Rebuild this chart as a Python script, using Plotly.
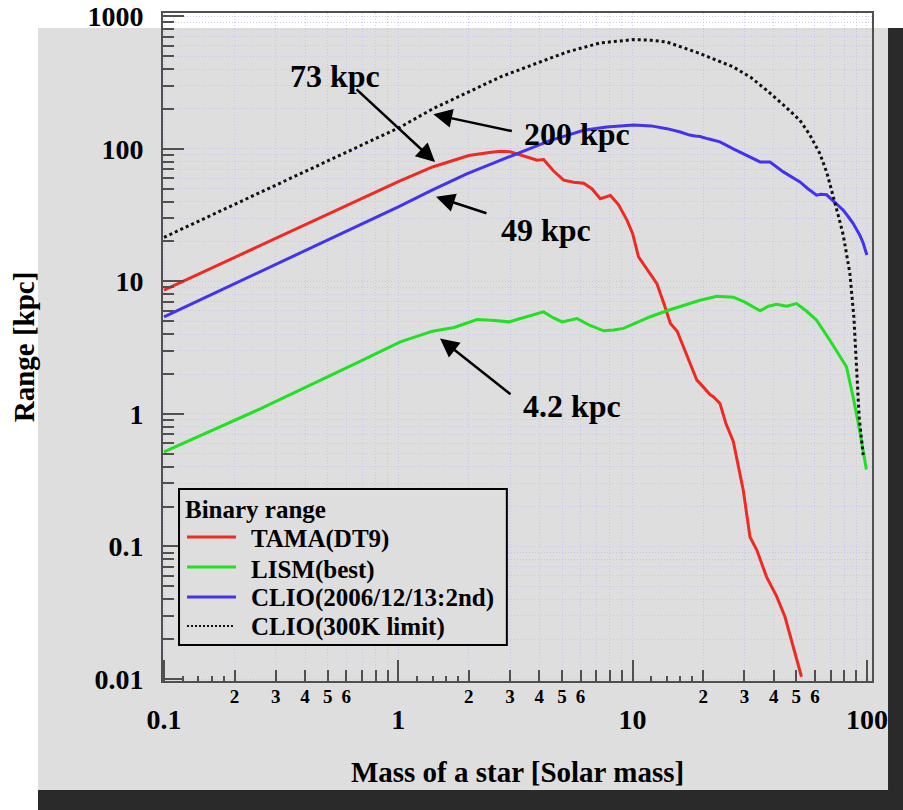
import math
import plotly.graph_objects as go

# ---- Binary inspiral range [kpc] vs. mass of each star [solar mass] ----
mass_tama = [0.1, 0.3, 1.0, 1.4, 2.0, 2.45, 2.73, 3.0, 3.21, 3.6, 3.91, 4.17, 4.6, 5.08,
             5.6, 6.18, 6.7, 7.28, 8.04, 8.7, 9.46, 10.0, 10.6, 11.5, 12.7, 13.6, 14.5,
             15.5, 16.5, 18.8, 19.4, 21.4, 22.1, 23.6, 25.0, 26.9, 28.3, 29.7, 31.7,
             33.9, 37.3, 41.2, 44.7, 48.5, 52.6]
range_tama = [8.6, 21.0, 56.5, 73.0, 89.0, 94.0, 96.0, 95.0, 92.0, 86.0, 82.0, 83.0, 68.0,
              58.0, 56.0, 55.0, 50.0, 42.0, 44.5, 38.0, 29.0, 23.0, 15.3, 12.4, 9.6, 6.8,
              4.82, 4.2, 3.2, 1.8, 1.7, 1.4, 1.35, 1.2, 0.85, 0.62, 0.40, 0.263, 0.118,
              0.094, 0.059, 0.042, 0.0295, 0.0175, 0.0104]

mass_lism = [0.1, 0.26, 0.69, 1.02, 1.33, 1.4, 1.73, 2.17, 2.5, 2.97, 3.32, 3.8, 4.17,
             4.6, 5.0, 5.79, 6.5, 7.52, 8.3, 9.14, 10.5, 11.9, 14.0, 16.5, 19.4, 22.9,
             26.9, 30.0, 35.0, 38.0, 41.2, 45.4, 50.1, 55.0, 61.0, 69.5, 75.0, 81.8,
             87.3, 93.3, 99.5]
range_lism = [0.518, 1.1, 2.5, 3.5, 4.09, 4.2, 4.49, 5.16, 5.1, 4.95, 5.25, 5.6, 5.89,
              5.3, 4.95, 5.25, 4.7, 4.24, 4.3, 4.42, 4.9, 5.41, 6.0, 6.62, 7.2, 7.73,
              7.6, 7.0, 6.0, 6.5, 6.73, 6.5, 6.8, 6.0, 5.1, 3.6, 2.9, 2.27, 1.35, 0.74,
              0.38]

mass_clio = [0.1, 1.0, 1.4, 1.97, 2.5, 3.21, 4.46, 5.3, 6.18, 7.76, 10.1, 12.0, 14.0,
             16.0, 17.5, 18.5, 19.4, 21.0, 23.6, 26.9, 29.7, 33.0, 35.0, 38.6, 44.0,
             51.8, 56.0, 61.0, 63.5, 67.3, 72.0, 79.3, 83.0, 87.3, 93.3, 96.4, 100.0]
range_clio = [5.4, 36.5, 49.0, 65.0, 77.0, 92.0, 116, 127, 138, 146, 151, 149, 142,
              134, 127, 125, 124, 119, 113, 100, 92, 84, 79.6, 79.6, 67, 56.3, 50,
              44.7, 45.5, 45.0, 40, 34.4, 31, 27.4, 22.3, 19.5, 15.8]

mass_limit = [0.1, 1.02, 1.4, 2.73, 4.0, 5.25, 7.28, 10.1, 12.0, 14.0, 19.4, 26.9, 32.0,
              37.3, 44.0, 51.8, 57.0, 63.0, 67.5, 71.8, 76.0, 79.3, 84.6, 88.0, 90.3,
              92.7, 96.4]
range_limit = [21.5, 146, 200, 349, 450, 538, 630, 667, 660, 640, 523, 415, 345, 277,
               215, 164, 128, 92, 66, 44.7, 30, 22.3, 11.5, 5.37, 2.25, 0.946, 0.49]

series_names = ["TAMA(DT9)", "LISM(best)", "CLIO(2006/12/13:2nd)", "CLIO(300K limit)"]
series_colors = ["#ee2a22", "#22e022", "#4433ee", "#111111"]

# axis ticks
x_major = [0.1, 1, 10, 100]
x_major_text = ["0.1", "1", "10", "100"]
x_minor = [k * 10.0 ** e for e in (-1, 0, 1) for k in range(2, 10)]
x_minor_labelled = [k * 10.0 ** e for e in (-1, 0, 1) for k in range(2, 7)]
x_minor_text = [str(k) for e in (-1, 0, 1) for k in range(2, 7)]
x_sub = [k * 10.0 ** e for e in (-1, 0, 1) for k in (1.2, 1.4, 1.6, 1.8)]
y_major = [0.01, 0.1, 1, 10, 100, 1000]
y_major_text = ["0.01", "0.1", "1", "10", "100", "1000"]
y_minor = [k * 10.0 ** e for e in (-2, -1, 0, 1, 2) for k in range(2, 10)]

# annotated ranges at 1.4 solar mass: label, arrow tip (mass, range)
callout_text = ["73 kpc", "200 kpc", "49 kpc", "4.2 kpc"]
callout_tip_mass = [1.435, 1.411, 1.448, 1.507]
callout_tip_range = [79.5, 182.0, 43.5, 3.71]

SERIF = "Liberation Serif"
X_RANGE = [-1.0043, 2.0218]
Y_RANGE = [-2.0151, 3.0249]
GRID = "rgba(195,195,240,0.85)"
GRID_DASH = "1px,2px"
AXIS_LINE = "#505050"

fig = go.Figure()
series = [(mass_tama, range_tama), (mass_lism, range_lism),
          (mass_clio, range_clio), (mass_limit, range_limit)]
for i, (xs, ys) in enumerate(series):
    line = dict(color=series_colors[i], width=3)
    if i == 3:
        line = dict(color=series_colors[i], width=3, dash="3px,3px")
    fig.add_trace(go.Scatter(x=xs, y=ys, mode="lines", name=series_names[i],
                             line=line, showlegend=False))

# carriers for the extra bottom-axis rows (minor labels, fine ticks)
fig.add_trace(go.Scatter(x=[], y=[], xaxis="x2", showlegend=False, hoverinfo="skip"))
fig.add_trace(go.Scatter(x=[], y=[], xaxis="x3", showlegend=False, hoverinfo="skip"))

tick_font = dict(family=SERIF, size=28, color="black", weight="bold")

fig.update_layout(
    width=903, height=810,
    margin=dict(l=163, r=31, t=13, b=129),
    paper_bgcolor="white",
    plot_bgcolor="rgba(0,0,0,0)",
    xaxis=dict(
        type="log", range=X_RANGE, automargin=False, showline=True, mirror=True,
        linecolor=AXIS_LINE, linewidth=2, ticks="inside", ticklen=21, tickwidth=2,
        tickcolor=AXIS_LINE, tickmode="array", tickvals=x_major, ticktext=x_major_text,
        tickfont=tick_font, ticklabelstandoff=12, showgrid=True, gridcolor=GRID,
        griddash=GRID_DASH, gridwidth=1, zeroline=False,
        minor=dict(tickmode="array", tickvals=x_minor, ticks="inside", ticklen=11,
                   tickwidth=2, tickcolor=AXIS_LINE, showgrid=True, gridcolor=GRID,
                   griddash=GRID_DASH, gridwidth=1),
        title=dict(text="Mass of a star [Solar mass]", standoff=28,
                   font=dict(family=SERIF, size=29, color="black", weight="bold")),
    ),
    xaxis2=dict(
        type="log", range=X_RANGE, automargin=False, overlaying="x", anchor="y",
        side="bottom", showline=False, showgrid=False, zeroline=False, ticks="",
        tickmode="array", tickvals=x_minor_labelled, ticktext=x_minor_text,
        tickfont=dict(family=SERIF, size=19, color="black", weight="bold"),
        ticklabelstandoff=2,
    ),
    xaxis3=dict(
        type="log", range=X_RANGE, automargin=False, overlaying="x", anchor="y",
        side="bottom", showline=False, showgrid=False, zeroline=False,
        showticklabels=False, ticks="inside", ticklen=5, tickwidth=2,
        tickcolor=AXIS_LINE, tickmode="array", tickvals=x_sub,
    ),
    yaxis=dict(
        type="log", range=Y_RANGE, automargin=False, showline=True, mirror=True,
        linecolor=AXIS_LINE, linewidth=2, ticks="inside", ticklen=21, tickwidth=2,
        tickcolor=AXIS_LINE, tickmode="array", tickvals=y_major, ticktext=y_major_text,
        tickfont=tick_font, ticklabelstandoff=12, showgrid=True, gridcolor=GRID,
        griddash=GRID_DASH, gridwidth=1, zeroline=False,
        minor=dict(tickmode="array", tickvals=y_minor, ticks="inside", ticklen=11,
                   tickwidth=2, tickcolor=AXIS_LINE, showgrid=True, gridcolor=GRID,
                   griddash=GRID_DASH, gridwidth=1),
        title=dict(text="Range [kpc]", standoff=44,
                   font=dict(family=SERIF, size=29, color="black", weight="bold")),
    ),
)

# page backdrop: grey panel with a dark border strip at right and bottom
shapes = [
    dict(type="rect", xref="paper", yref="paper", x0=-0.1763, x1=1.0226, y0=-0.1632,
         y1=0.9775, fillcolor="#dedede", line=dict(width=0), layer="below"),
    dict(type="rect", xref="paper", yref="paper", x0=1.0226, x1=1.06, y0=-0.21,
         y1=0.9775, fillcolor="#2a2a2a", line=dict(width=0), layer="below"),
    dict(type="rect", xref="paper", yref="paper", x0=-0.1763, x1=1.06, y0=-0.21,
         y1=-0.1632, fillcolor="#2a2a2a", line=dict(width=0), layer="below"),
]

# legend box
LEG_X0, LEG_X1, LEG_Y0, LEG_Y1 = 0.0226, 0.485, 0.0539, 0.2874
shapes.append(dict(type="rect", xref="paper", yref="paper", x0=LEG_X0, x1=LEG_X1,
                   y0=LEG_Y0, y1=LEG_Y1, fillcolor="#dedede",
                   line=dict(color="black", width=2), layer="above"))
key_rows = [0.2156, 0.1707, 0.1257, 0.0823]
text_rows = [0.2126, 0.1662, 0.1243, 0.0808]
for i, yk in enumerate(key_rows):
    key_line = dict(color=series_colors[i], width=3)
    x1 = 0.103
    if i == 3:
        key_line = dict(color=series_colors[i], width=2, dash="2px,2px")
        x1 = 0.0987
    shapes.append(dict(type="line", xref="paper", yref="paper", x0=0.0339, x1=x1,
                       y0=yk, y1=yk, line=key_line, layer="above"))

annotations = [dict(text="Binary range", xref="paper", yref="paper", x=0.0282, y=0.256,
                    xanchor="left", yanchor="middle", showarrow=False,
                    font=dict(family=SERIF, size=25, color="black", weight="bold"))]
for i, yt in enumerate(text_rows):
    annotations.append(dict(text=series_names[i], xref="paper", yref="paper", x=0.1213,
                            y=yt, xanchor="left", yanchor="middle", showarrow=False,
                            font=dict(family=SERIF, size=25, color="black",
                                      weight="bold")))

# callout arrows and their labels
arrow_tail_offsets = [(-80, -74), (80, 17), (52, 17), (72, 57)]
label_pos = [(0.2426, 0.9057), (0.5839, 0.8189), (0.5409, 0.6751), (0.5769, 0.4117)]
for i, txt in enumerate(callout_text):
    ax, ay = arrow_tail_offsets[i]
    annotations.append(dict(
        x=math.log10(callout_tip_mass[i]), y=math.log10(callout_tip_range[i]),
        xref="x", yref="y", text="", showarrow=True, ax=ax, ay=ay,
        arrowhead=2, arrowsize=1.5, arrowwidth=2.5, arrowcolor="black"))
    lx, ly = label_pos[i]
    annotations.append(dict(
        text=txt, xref="paper", yref="paper", x=lx, y=ly, xanchor="center",
        yanchor="middle", showarrow=False,
        font=dict(family=SERIF, size=32, color="black", weight="bold")))

fig.update_layout(shapes=shapes, annotations=annotations)

fig.write_html("out.html")
